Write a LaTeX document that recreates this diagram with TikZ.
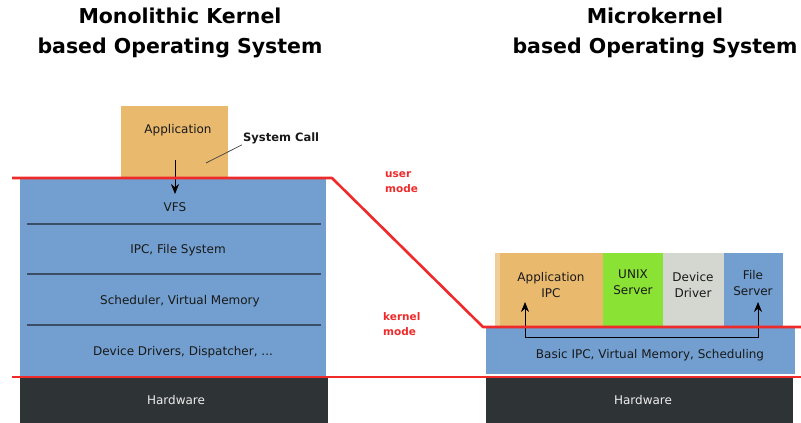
\documentclass[tikz,border=0pt]{standalone}
\usepackage{fontspec}
\setmainfont{DejaVu Sans}
\usetikzlibrary{arrows.meta}
\definecolor{apptan}{HTML}{E9B96E}
\definecolor{appgreen}{HTML}{8AE234}
\definecolor{appgrey}{HTML}{D3D7CF}
\definecolor{kblue}{HTML}{729FCF}
\definecolor{hwdark}{HTML}{2E3436}
\definecolor{modered}{HTML}{EE2A2A}
\definecolor{sepline}{HTML}{3A4F66}
\begin{document}
\begin{tikzpicture}[x=1pt,y=-1pt,
  blk/.style={anchor=north west, inner sep=0pt, outer sep=0pt},
  lbl/.style={font=\fontsize{12}{16}\selectfont, text=black!90, align=center, inner sep=1pt},
  hwlbl/.style={font=\fontsize{12}{16}\selectfont, text=white!93!black},
  title/.style={font=\fontsize{20.5}{30}\selectfont\bfseries, align=center},
  redline/.style={draw=modered, line width=2.6pt, line join=round},
  modelbl/.style={font=\fontsize{10.5}{15.5}\selectfont\bfseries, text=modered, align=left, anchor=north west, inner sep=0pt},
  sep/.style={draw=sepline, line width=1.3pt},
  tip/.style={-{Stealth[length=10pt,width=8pt]}, line width=0.8pt}
]
\useasboundingbox (0,0) rectangle (801,423);

% titles
\node[title] (t1) at (180,33) {Monolithic Kernel\\based Operating System};
\node[title] (t2) at (655,33) {Microkernel\\based Operating System};

% ---------- monolithic ----------
\node[blk, fill=apptan, minimum width=107pt, minimum height=72pt] (app) at (121,106) {};
\node[lbl] (applbl) at (178,130) {Application};
\node[blk, fill=kblue, minimum width=306pt, minimum height=198pt] (mono) at (20,178) {};
\node[blk, fill=hwdark, minimum width=308pt, minimum height=46pt] (hw1) at (20,377) {};
\node[hwlbl] (hw1lbl) at (176,400) {Hardware};

\coordinate (s1a) at (27,224); \coordinate (s1b) at (321,224);
\coordinate (s2a) at (27,274); \coordinate (s2b) at (321,274);
\coordinate (s3a) at (27,325); \coordinate (s3b) at (321,325);
\draw[sep] (s1a) -- (s1b);
\draw[sep] (s2a) -- (s2b);
\draw[sep] (s3a) -- (s3b);

\node[lbl] (vfs) at (175,207) {VFS};
\node[lbl] (ipcfs) at (178,250) {IPC, File System};
\node[lbl] (sched) at (180,301) {Scheduler, Virtual Memory};
\node[lbl] (devdrv) at (183,352) {Device Drivers, Dispatcher, ...};

\node[lbl, anchor=west, font=\fontsize{11.5}{14}\selectfont\bfseries] (syscall) at (242,138) {System Call};
\coordinate (sca) at (206,163);
\draw[line width=0.7pt, black!75] (sca) -- (syscall.south west);

\coordinate (arrA) at (175,160);
\coordinate (arrB) at (175,194);
\draw[tip] (arrA) -- (arrB);

% ---------- microkernel ----------
\node[blk, fill=apptan!70!white, minimum width=6pt, minimum height=73pt] (strip) at (495,253) {};
\node[blk, fill=apptan, minimum width=103pt, minimum height=73pt] (appipc) at (500,253) {};
\node[blk, fill=appgreen, minimum width=60pt, minimum height=73pt] (unix) at (603,253) {};
\node[blk, fill=appgrey, minimum width=61pt, minimum height=73pt] (dev) at (663,253) {};
\node[blk, fill=kblue, minimum width=59pt, minimum height=73pt] (fs) at (724,253) {};

\node[lbl] (appipclbl) at (551,285) {Application\\IPC};
\node[lbl] (unixlbl) at (633,282) {UNIX\\Server};
\node[lbl] (devlbl) at (693,285) {Device\\Driver};
\node[lbl] (fslbl) at (753,283) {File\\Server};

\node[blk, fill=kblue, minimum width=309pt, minimum height=47pt] (basic) at (486,327) {};
\node[lbl] (basiclbl) at (650,355) {Basic IPC, Virtual Memory, Scheduling};
\node[blk, fill=hwdark, minimum width=307pt, minimum height=46pt] (hw2) at (486,377) {};
\node[hwlbl] (hw2lbl) at (643,400) {Hardware};

\coordinate (ipcL) at (525,302);
\coordinate (ipcLb) at (525,337);
\coordinate (ipcRb) at (758,337);
\coordinate (ipcR) at (758,302);
\draw[{Stealth[length=10pt,width=8pt]}-{Stealth[length=10pt,width=8pt]}, line width=0.8pt, line join=miter] (ipcL) -- (ipcLb) -- (ipcRb) -- (ipcR);

% ---------- mode lines ----------
\coordinate (ua) at (12,178);
\coordinate (ub) at (332,178);
\coordinate (uc) at (483,327);
\coordinate (ud) at (801,327);
\draw[redline] (ua) -- (ub) -- (uc) -- (ud);
\coordinate (ka) at (12,377);
\coordinate (kb) at (801,377);
\draw[redline] (ka) -- (kb);

\node[modelbl] (usermode) at (385,171) {user\\mode};
\node[modelbl] (kernelmode) at (383,312) {kernel\\mode};
\end{tikzpicture}
\end{document}
